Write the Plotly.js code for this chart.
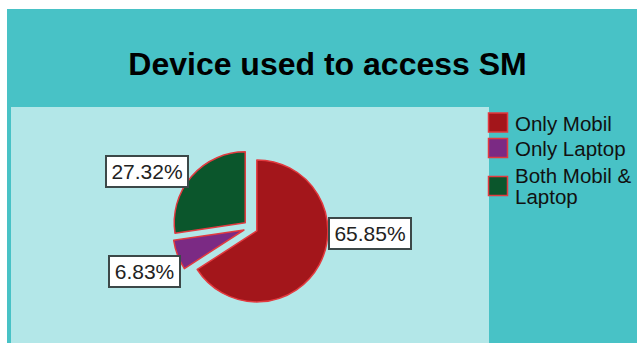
<!DOCTYPE html>
<html>
<head>
<meta charset="utf-8">
<script src="https://cdn.plot.ly/plotly-3.0.1.min.js"></script>
<style>html,body{margin:0;padding:0;background:#fff;}#chart{width:637px;height:343px;}</style>
</head>
<body>
<div id="chart"></div>
<script>
const categories = ['Only Mobil', 'Only Laptop', 'Both Mobil &<br>Laptop'];
const counts = [135, 14, 56];
const sliceColors = ['#a3161b', '#7b2a84', '#0b562c'];

const total = counts.reduce((a, b) => a + b, 0);
const pctText = counts.map(v => (v / total * 100).toFixed(2) + '%');

const W = 637, H = 343;
const px = x => x / W;
const py = y => 1 - y / H;
const FONT = 'Liberation Sans, Arial, sans-serif';

// label box centres (layout)
const labelPos = [[370, 233.5], [144, 271.5], [146.5, 171.5]];

const annotations = pctText.map((t, i) => ({
  text: t, xref: 'paper', yref: 'paper',
  x: px(labelPos[i][0]), y: py(labelPos[i][1]),
  xanchor: 'center', yanchor: 'middle', showarrow: false,
  width: t.length > 5 ? 78 : 67, height: 27,
  bgcolor: '#ffffff', bordercolor: '#3c4848', borderwidth: 2, borderpad: 1,
  font: {family: FONT, size: 21, color: '#222222'}
}));

// custom legend (layout positions)
const legRowY = [122.5, 148, 186];
const legSym = 19;
const shapes = [
  {type: 'rect', xref: 'paper', yref: 'paper', x0: px(7), x1: 1, y0: 0, y1: py(9),
   fillcolor: '#48c2c6', line: {width: 0}, layer: 'below'},
  {type: 'rect', xref: 'paper', yref: 'paper', x0: px(11), x1: px(489), y0: 0, y1: py(107),
   fillcolor: '#b3e7e8', line: {width: 0}, layer: 'below'}
];
categories.forEach((c, i) => {
  shapes.push({type: 'rect', xref: 'paper', yref: 'paper',
    x0: px(488.5), x1: px(488.5 + legSym),
    y0: py(legRowY[i] + legSym / 2), y1: py(legRowY[i] - legSym / 2),
    fillcolor: sliceColors[i], line: {color: '#e23a3f', width: 1.5}, layer: 'above'});
  const lines = c.split('<br>');
  const lineGap = 20.5;
  const y0 = legRowY[i] - (lines.length - 1) * lineGap / 2 - (lines.length > 1 ? 0.5 : 0);
  lines.forEach((ln, j) => {
    annotations.push({text: ln, xref: 'paper', yref: 'paper',
      x: px(513), y: py(y0 + j * lineGap + 0.5), xanchor: 'left', yanchor: 'middle',
      showarrow: false, font: {family: FONT, size: 20.5, color: '#111111'}});
  });
});

const trace = {
  type: 'pie',
  labels: categories,
  values: counts,
  sort: false,
  direction: 'clockwise',
  rotation: 0,
  pull: [0.1, 0.1, 0.1],
  textinfo: 'none',
  hoverinfo: 'label+percent',
  showlegend: false,
  marker: {colors: sliceColors, line: {color: '#e23a3f', width: 1.5}},
  domain: {x: [px(172.5), px(328.7)], y: [py(305.6), py(149.4)]}
};

const layout = {
  width: W, height: H,
  margin: {l: 0, r: 0, t: 0, b: 0},
  paper_bgcolor: '#ffffff',
  font: {family: FONT, color: '#000'},
  title: {
    text: '<b>Device used to access SM</b>',
    font: {family: FONT, size: 32, color: '#000'},
    x: px(327.5), xanchor: 'center', xref: 'paper',
    y: py(64), yanchor: 'middle', yref: 'paper'
  },
  shapes: shapes,
  annotations: annotations,
  showlegend: false
};

Plotly.newPlot('chart', [trace], layout, {displayModeBar: false, staticPlot: true});
</script>
</body>
</html>
